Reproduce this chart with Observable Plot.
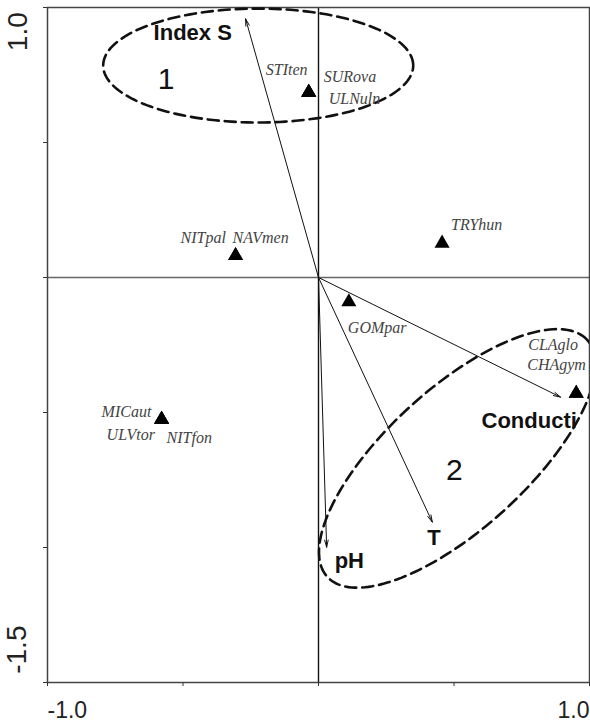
<!DOCTYPE html>
<html><head><meta charset="utf-8">
<script src="https://cdn.jsdelivr.net/npm/d3@7"></script>
<script src="https://cdn.jsdelivr.net/npm/@observablehq/plot@0.6"></script>
<style>html,body{margin:0;padding:0;background:#fff} svg{display:block}</style>
</head><body><div id="chart"></div>
<script>
// ---- Species (taxa) scores: taxa that overlap share one point ----
const taxa       = ["STIten","SURova","ULNuln","NITpal","NAVmen","TRYhun","GOMpar","CLAglo","CHAgym","MICaut","ULVtor","NITfon"];
const taxonAxis1 = [-0.036,-0.036,-0.036,-0.306,-0.306, 0.456, 0.112, 0.951, 0.951,-0.579,-0.579,-0.579];
const taxonAxis2 = [ 0.693, 0.693, 0.693, 0.088, 0.088, 0.134,-0.083,-0.422,-0.422,-0.518,-0.518,-0.518];

// ---- Environmental variables (biplot arrows) ----
const envVars  = ["Index S","Conducti","T","pH"];
const envAxis1 = [-0.269, 0.893, 0.420, 0.030];
const envAxis2 = [ 0.958,-0.443,-0.906,-0.999];

// ---- Groups (dashed ellipses) ----
const groups       = ["1","2"];
const groupCenter1 = [-0.2225, 0.512];
const groupCenter2 = [ 0.785, -0.670];
const groupRadiusA = [ 0.572,  0.650];
const groupRadiusB = [ 0.211,  0.259];
const groupAngle   = [ 0,     42.5];

// ---- Axes ----
const xTicks = [-1, -0.5, 0, 0.5, 1];
const yTicks = [-1.5, -1, -0.5, 0, 0.5, 1];
const xTickLabels = ["-1.0", "1.0"];
const xTickLabelValues = [-1, 1];
const yTickLabels = ["1.0", "-1.5"];
const yTickLabelValues = [1, -1.5];

// ---- layout (pixel offsets of labels) ----
const taxonLabelOffset = {
  STIten:[-43,-15], SURova:[15,-8], ULNuln:[20,14],
  NITpal:[-55,-11], NAVmen:[-3,-11], TRYhun:[9,-11],
  GOMpar:[-1,33], CLAglo:[-48,-41], CHAgym:[-49,-21],
  MICaut:[-60,0], ULVtor:[-55,23], NITfon:[5,26]
};
const envLabelOffset = {"Index S":[-92,21], "Conducti":[-79,31], "T":[-5,23], "pH":[8,21]};
const groupLabelOffset = [[-92,14],[-3,12]];

const taxonIdx = taxa.map((_, i) => i);
const envIdx = envVars.map((_, i) => i);

// ellipse outlines in data space
const ellipsePts = [];
groups.forEach((g, k) => {
  const th = groupAngle[k] * Math.PI / 180;
  for (let d = 0; d <= 360; d += 2) {
    const t = d * Math.PI / 180;
    const a = groupRadiusA[k] * Math.cos(t), b = groupRadiusB[k] * Math.sin(t);
    ellipsePts.push({group: g,
      x: groupCenter1[k] + a * Math.cos(th) - b * Math.sin(th),
      y: groupCenter2[k] + a * Math.sin(th) + b * Math.cos(th)});
  }
});

const sans = "'Liberation Sans', Arial, sans-serif";
const serif = "'Liberation Serif', 'Times New Roman', serif";

const marks = [
  Plot.ruleY([0], {stroke: "#666", strokeWidth: 1.5}),
  Plot.ruleX([0], {stroke: "#111", strokeWidth: 1.4}),
  Plot.frame({stroke: "#444", strokeWidth: 1.5}),
  Plot.axisX({ticks: xTicks, tickSize: 4, tickFormat: () => "", label: null, stroke: "#333"}),
  Plot.axisY({ticks: yTicks, tickSize: 4, tickFormat: () => "", label: null, stroke: "#333"}),
  // ellipses
  Plot.line(ellipsePts, {x: "x", y: "y", z: "group", stroke: "#111", strokeWidth: 2.6,
    strokeDasharray: "11,6", clip: "frame"}),
  // arrows
  Plot.arrow(envIdx, {x1: () => 0, y1: () => 0, x2: i => envAxis1[i], y2: i => envAxis2[i],
    stroke: "#111", strokeWidth: 1, headLength: 11, headAngle: 28}),
  // species triangles
  Plot.dot(taxonIdx, {x: i => taxonAxis1[i], y: i => taxonAxis2[i], symbol: "triangle",
    r: 5.6, fill: "#000", stroke: "none", dy: 2})
];

// species labels
taxonIdx.forEach(i => {
  const [dx, dy] = taxonLabelOffset[taxa[i]];
  marks.push(Plot.text([i], {x: j => taxonAxis1[j], y: j => taxonAxis2[j], text: j => taxa[j],
    dx, dy, textAnchor: "start", lineAnchor: "bottom", fontFamily: serif, fontStyle: "italic",
    fontSize: 16, fill: "#444"}));
});
// environmental labels
envIdx.forEach(i => {
  const [dx, dy] = envLabelOffset[envVars[i]];
  marks.push(Plot.text([i], {x: j => envAxis1[j], y: j => envAxis2[j], text: j => envVars[j],
    dx, dy, textAnchor: "start", lineAnchor: "bottom", fontFamily: sans, fontWeight: "bold",
    fontSize: 22, fill: "#111"}));
});
// group numbers
groups.forEach((g, k) => {
  const [dx, dy] = groupLabelOffset[k];
  marks.push(Plot.text([k], {x: j => groupCenter1[j], y: j => groupCenter2[j], text: j => groups[j],
    dx, dy, textAnchor: "middle", lineAnchor: "middle", fontFamily: sans, fontSize: 30, fill: "#111"}));
});
// tick labels (only the axis extremes are labelled)
marks.push(Plot.text([0], {x: () => xTickLabelValues[0], y: () => -1.5, text: () => xTickLabels[0],
  textAnchor: "start", lineAnchor: "bottom", dy: 35, fontFamily: sans, fontSize: 23, fill: "#222",
  ariaLabel: "x-extreme-label"}));
marks.push(Plot.text([0], {x: () => xTickLabelValues[1], y: () => -1.5, text: () => xTickLabels[1],
  textAnchor: "end", lineAnchor: "bottom", dy: 35, fontFamily: sans, fontSize: 23, fill: "#222",
  ariaLabel: "x-extreme-label"}));
marks.push(Plot.text([0], {x: () => -1, y: () => yTickLabelValues[0], text: () => yTickLabels[0],
  rotate: -90, textAnchor: "end", lineAnchor: "bottom", dx: -20.3, dy: 4.7, fontFamily: sans, fontSize: 28, fill: "#222",
  ariaLabel: "y-extreme-label"}));
marks.push(Plot.text([0], {x: () => -1, y: () => yTickLabelValues[1], text: () => yTickLabels[1],
  rotate: -90, textAnchor: "start", lineAnchor: "bottom", dx: -21.5, dy: -8.7, fontFamily: sans, fontSize: 28, fill: "#222",
  ariaLabel: "y-extreme-label"}));

const chart = Plot.plot({
  width: 590, height: 721,
  marginLeft: 47, marginRight: 1, marginTop: 7, marginBottom: 39,
  x: {domain: [-1, 1], label: null},
  y: {domain: [-1.5, 1], label: null},
  style: {fontFamily: sans, background: "#fff"},
  marks
});
// widen the bottom extreme labels, thin the rotated left ones (as in the reference typeface)
d3.select(chart).selectAll('g[aria-label="x-extreme-label"] text')
  .attr("transform", function() { return this.getAttribute("transform") + " scale(1.38,1)"; });
d3.select(chart).selectAll('g[aria-label="y-extreme-label"] text')
  .attr("transform", function() { return this.getAttribute("transform") + " scale(1,0.74)"; });
document.getElementById("chart").appendChild(chart);
</script>
</body></html>
